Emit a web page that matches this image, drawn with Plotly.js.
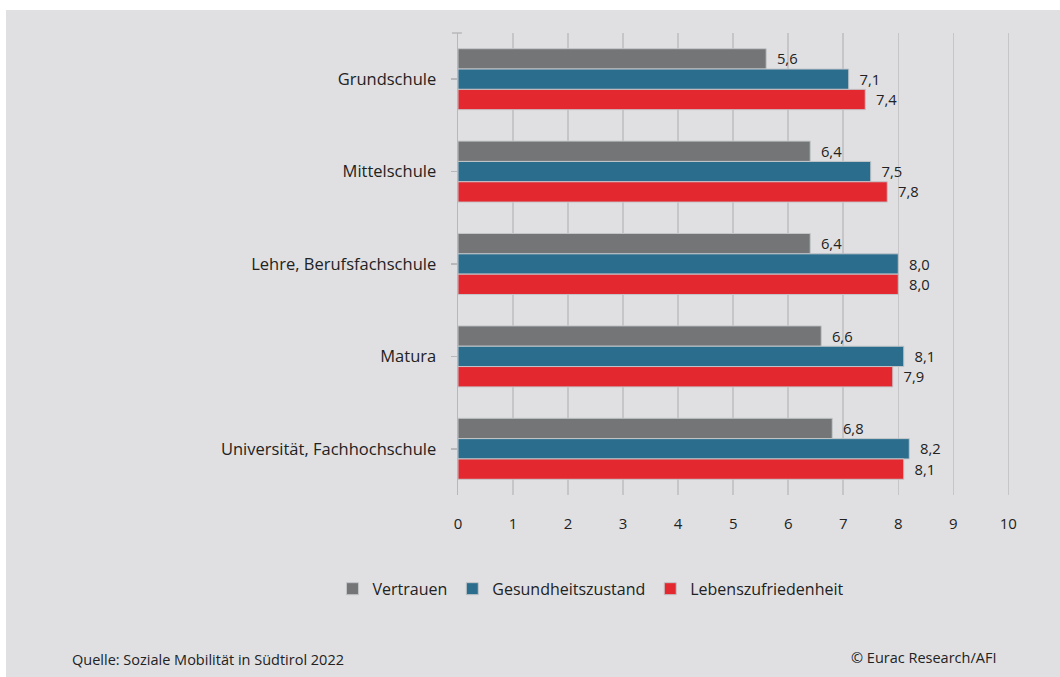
<!DOCTYPE html>
<html>
<head>
<meta charset="utf-8">
<script src="https://cdn.plot.ly/plotly-3.0.1.min.js"></script>
<style>
  body { margin: 0; background: #ffffff; }
  #chart { position: absolute; left: 6px; top: 10px; width: 1054px; height: 667px; }
</style>
</head>
<body>
<div id="chart"></div>
<script>
// Daten
const kategorien = ['Grundschule', 'Mittelschule', 'Lehre, Berufsfachschule', 'Matura', 'Universität, Fachhochschule'];
const vertrauen = [5.6, 6.4, 6.4, 6.6, 6.8];
const gesundheit = [7.1, 7.5, 8.0, 8.1, 8.2];
const zufriedenheit = [7.4, 7.8, 8.0, 7.9, 8.1];
const xTicks = [0, 1, 2, 3, 4, 5, 6, 7, 8, 9, 10];

const textFarbe = '#222222';
const schrift = 'Open Sans, Noto Sans, sans-serif';

// Zahl mit Komma
function fmt(v) {
  return '\u00a0\u00a0' + v.toFixed(1).replace('.', ',');
}

function serie(name, werte, farbe) {
  return {
    type: 'bar',
    orientation: 'h',
    name: name,
    x: werte,
    y: kategorien,
    text: werte.map(fmt),
    textposition: 'outside',
    cliponaxis: false,
    textfont: {size: 16, color: textFarbe, family: schrift},
    marker: {color: farbe, line: {color: '#c3c6c9', width: 1}},
    hoverinfo: 'x+y'
  };
}

const daten = [
  serie('Vertrauen', vertrauen, '#737577'),
  serie('Gesundheitszustand', gesundheit, '#2a6d8d'),
  serie('Lebenszufriedenheit', zufriedenheit, '#e3292f')
];

const layout = {
  width: 1054,
  height: 667,
  paper_bgcolor: '#e0e0e2',
  plot_bgcolor: '#e0e0e2',
  margin: {l: 452, r: 50, t: 23, b: 182},
  font: {family: schrift, color: textFarbe, size: 16},
  barmode: 'group',
  bargap: 0.34,
  bargroupgap: 0,
  showlegend: true,
  legend: {
    orientation: 'h',
    x: 0.24, xanchor: 'center',
    y: -0.203, yanchor: 'middle',
    font: {size: 16, color: textFarbe},
    itemwidth: 30,
    tracegroupgap: 0
  },
  xaxis: {
    range: [0, 10.03],
    tickvals: xTicks,
    ticktext: xTicks.map(String),
    showgrid: true,
    gridcolor: '#c6c6c8',
    gridwidth: 1.5,
    zeroline: false,
    showline: false,
    ticks: '',
    ticklabelstandoff: 18,
    tickfont: {size: 15, color: textFarbe},
    fixedrange: true
  },
  yaxis: {
    autorange: 'reversed',
    showgrid: false,
    showline: true,
    linecolor: '#b8b8ba',
    linewidth: 1.5,
    ticks: 'outside',
    ticklen: 6,
    tickcolor: '#b8b8ba',
    tickwidth: 1.5,
    ticklabelstandoff: 11,
    tickfont: {size: 16.5, color: textFarbe},
    fixedrange: true
  },
  shapes: [
    {type: 'line', xref: 'paper', yref: 'paper', x0: -0.011, x1: 0.007, y0: 1, y1: 1,
     line: {color: '#b8b8ba', width: 1.5}}
  ],
  annotations: [
    {text: 'Quelle: Soziale Mobilität in Südtirol 2022', xref: 'paper', yref: 'paper',
     x: -0.703, y: -0.357, xanchor: 'left', yanchor: 'middle', showarrow: false,
     font: {size: 14.5, color: textFarbe}},
    {text: '© Eurac Research/AFI', xref: 'paper', yref: 'paper',
     x: 0.978, y: -0.351, xanchor: 'right', yanchor: 'middle', showarrow: false,
     font: {size: 14.5, color: textFarbe}}
  ]
};

Plotly.newPlot('chart', daten, layout, {displayModeBar: false, staticPlot: true});
</script>
</body>
</html>
